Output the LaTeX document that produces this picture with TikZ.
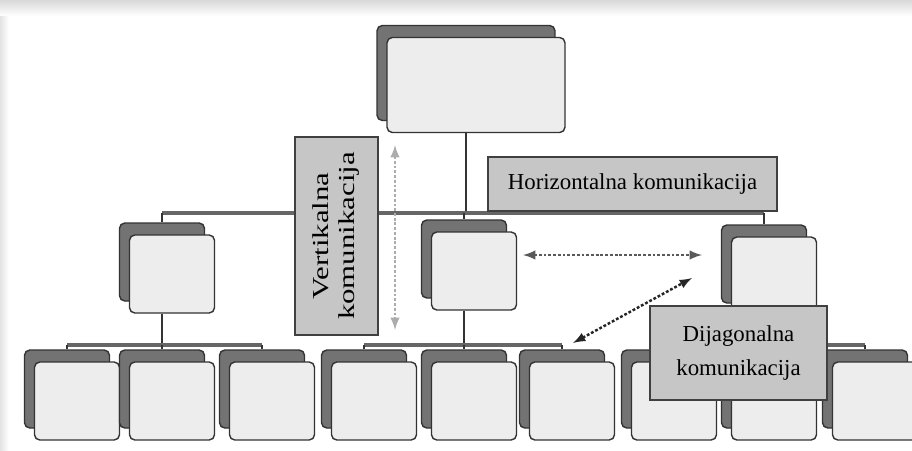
\documentclass[tikz,border=0pt]{standalone}
\usepackage{fontspec}
\setmainfont{Liberation Serif}
\usetikzlibrary{shadows}
\begin{document}
\begin{tikzpicture}[x=0.02cm, y=-0.02cm]
    % Define styles
    \tikzstyle{unit} = [draw=black!80, line width=0.8pt, fill=gray!14, rounded corners=3pt, minimum width=1.7cm, minimum height=1.56cm, copy shadow={shadow xshift=-2mm, shadow yshift=2.4mm, fill=black!55, draw=black!80}]
    \tikzstyle{tag} = [draw=black!75, line width=0.9pt, fill=gray!45, align=center, font=\fontsize{13}{15}\selectfont]
    \tikzstyle{stem} = [draw=black!80, line width=1.2pt]
    \tikzstyle{bar} = [draw=black!60, line width=2pt]
    \tikzstyle{talk} = [<->, >=latex, line width=1.4pt, dash pattern=on 1.6pt off 1.1pt]

    \useasboundingbox (0,0) rectangle (912,450);
    \shade[top color=gray!30, bottom color=white] (0,0) rectangle (912,16);
    \shade[left color=gray!22, right color=white] (0,16) rectangle (9,450);

    % Boxes
    \node[unit, minimum width=3.56cm, minimum height=1.9cm] (top) at (476,85) {};
    \node[unit] (midL) at (172,274) {};
    \node[unit] (midC) at (474,271) {};
    \node[unit] (midR) at (774,276) {};
    \foreach \k/\x in {1/77, 2/172, 3/272, 4/374, 5/474, 6/572, 7/674, 8/774, 9/875}
        \node[unit] (b\k) at (\x,401) {};

    % Attach points on the back boxes
    \foreach \n in {midL,midC,midR,b1,b2,b3,b4,b5,b6,b7,b8,b9}
        \coordinate (\n-in) at ([xshift=-2mm,yshift=2.4mm]\n.north);
    \foreach \n in {top,midL,midC,midR}
        \coordinate (\n-out) at ([xshift=-2mm]\n.south);
    \coordinate (hub) at (0,213);
    \coordinate (row) at (0,345);

    % Hierarchy lines
    \draw[stem] (top-out) -- (top-out |- hub);
    \draw[bar] (midL-in |- hub) -- (midR-in |- hub);
    \foreach \n in {midL,midC,midR}
        \draw[stem] (\n-in |- hub) -- (\n-in);
    \foreach \p/\a/\b/\c in {midL/b1/b2/b3, midC/b4/b5/b6, midR/b7/b8/b9} {
        \draw[stem] (\p-out) -- (\p-out |- row);
        \draw[bar] (\a-in |- row) -- (\c-in |- row);
        \foreach \k in {\a,\b,\c}
            \draw[stem] (\k-in |- row) -- (\k-in);
    }

    % Labels
    \node[tag, rotate=90, minimum width=3.96cm, minimum height=1.66cm] (vert) at (336.5,236)
        {\scalebox{1.35}[1]{\begin{tabular}{@{}c@{}}Vertikalna\\komunikacija\end{tabular}}};
    \node[tag, minimum width=5.78cm, minimum height=1.08cm] (horiz) at (632.5,184) {Horizontalna komunikacija};
    \node[tag, minimum width=3.54cm, minimum height=1.88cm, font=\fontsize{13}{19}\selectfont] (diag) at (738.5,353) {Dijagonalna\\komunikacija};

    % Communication arrows
    \coordinate (v1) at (395,145);
    \coordinate (v2) at (395,330);
    \coordinate (h1) at (523,255);
    \coordinate (h2) at (702,255);
    \coordinate (d1) at (573,343);
    \coordinate (d2) at (692,278);
    \draw[talk, gray!65] (v1) -- (v2);
    \draw[talk, black!65] (h1) -- (h2);
    \draw[talk, black!85] (d1) -- (d2);
\end{tikzpicture}
\end{document}
